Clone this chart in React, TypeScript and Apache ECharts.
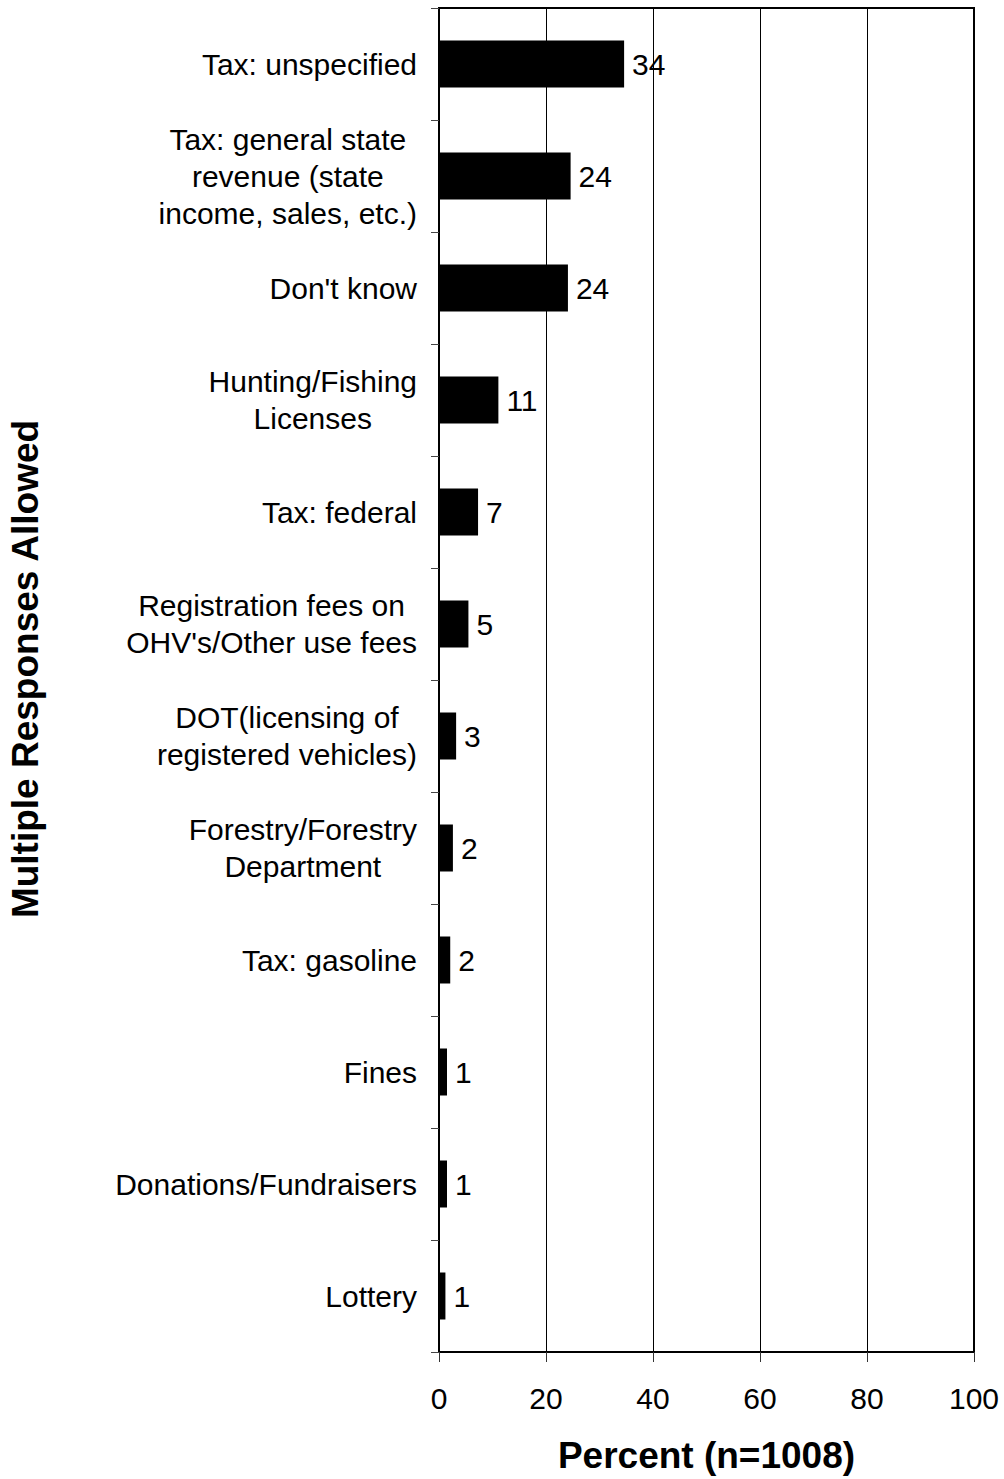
import React, { useEffect, useRef } from "react";
import * as echarts from "echarts";

const categories: string[] = [
  "Tax: unspecified",
  "Tax: general state\nrevenue (state\nincome, sales, etc.)",
  "Don't know",
  "Hunting/Fishing\nLicenses",
  "Tax: federal",
  "Registration fees on\nOHV's/Other use fees",
  "DOT(licensing of\nregistered vehicles)",
  "Forestry/Forestry\nDepartment",
  "Tax: gasoline",
  "Fines",
  "Donations/Fundraisers",
  "Lottery",
];

// bar lengths
const values: number[] = [34.6, 24.6, 24.1, 11.1, 7.3, 5.5, 3.2, 2.6, 2.1, 1.5, 1.5, 1.2];
// printed value labels
const valueLabels: string[] = ["34", "24", "24", "11", "7", "5", "3", "2", "2", "1", "1", "1"];

const xTicks = { min: 0, max: 100, interval: 20 };
const xTitle = "Percent (n=1008)";
const yTitle = "Multiple Responses Allowed";

const FONT = "'Liberation Sans', Arial, Helvetica, sans-serif";
const FS = 30;

export default function App() {
  const ref = useRef<HTMLDivElement>(null);

  useEffect(() => {
    document.body.style.margin = "0";
    if (!ref.current) return;
    const chart = echarts.init(ref.current, undefined, { renderer: "svg" });
    chart.setOption({
      animation: false,
      backgroundColor: "#ffffff",
      textStyle: { fontFamily: FONT, color: "#000" },
      grid: {
        left: 439,
        right: 30,
        top: 8,
        bottom: 123,
        show: true,
        borderColor: "#000",
        borderWidth: 2,
        backgroundColor: "transparent",
      },
      xAxis: {
        type: "value",
        min: xTicks.min,
        max: xTicks.max,
        interval: xTicks.interval,
        name: xTitle,
        nameLocation: "middle",
        nameGap: 85,
        nameTextStyle: {
          fontFamily: FONT,
          fontSize: 37,
          fontWeight: "bold",
          color: "#000",
        },
        axisLine: { show: true, lineStyle: { color: "#000", width: 2 } },
        axisTick: { show: true, length: 10, lineStyle: { color: "#333", width: 1 } },
        axisLabel: { fontFamily: FONT, fontSize: FS, color: "#000", margin: 31 },
        splitLine: { show: true, lineStyle: { color: "#000", width: 1 } },
      },
      yAxis: {
        type: "category",
        data: categories,
        inverse: true,
        axisLine: { show: true, lineStyle: { color: "#000", width: 2 } },
        axisTick: { show: true, length: 8, lineStyle: { color: "#444", width: 1 } },
        axisLabel: {
          fontFamily: FONT,
          fontSize: FS,
          color: "#000",
          margin: 22,
          lineHeight: 37,
          interval: 0,
          formatter: (v: string) =>
            v
              .split("\n")
              .map((l) => `{c|${l}}`)
              .join("\n"),
          rich: {
            c: {
              align: "center",
              fontFamily: FONT,
              fontSize: FS,
              lineHeight: 37,
              color: "#000",
            },
          },
        },
        splitLine: { show: false },
      },
      graphic: [
        {
          type: "text",
          x: 25,
          y: 669,
          rotation: Math.PI / 2,
          style: {
            text: yTitle,
            fontFamily: FONT,
            fontSize: 37,
            fontWeight: "bold",
            fill: "#000",
            align: "center",
            verticalAlign: "middle",
          },
        },
      ],
      series: [
        {
          type: "bar",
          data: values,
          barWidth: 47,
          itemStyle: { color: "#000" },
          label: {
            show: true,
            position: "right",
            distance: 8,
            fontFamily: FONT,
            fontSize: FS,
            color: "#000",
            formatter: (p: any) => valueLabels[p.dataIndex],
          },
        },
      ],
    });
    return () => chart.dispose();
  }, []);

  return <div ref={ref} style={{ width: 1004, height: 1479 }} />;
}
